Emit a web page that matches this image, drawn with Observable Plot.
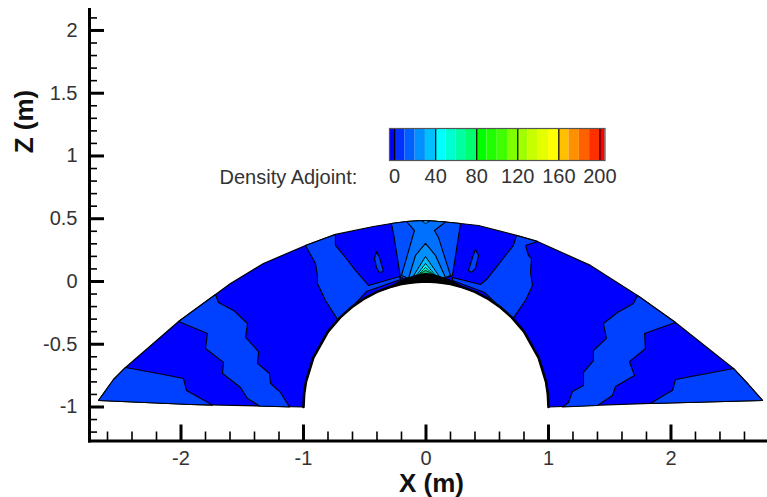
<!DOCTYPE html>
<html>
<head>
<meta charset="utf-8">
<script src="https://cdn.jsdelivr.net/npm/d3@7"></script>
<script src="https://cdn.jsdelivr.net/npm/@observablehq/plot@0.6"></script>
<style>
html,body{margin:0;padding:0;background:#fff;}
#wrap{position:relative;width:767px;height:497px;overflow:hidden;}
#wrap svg{position:absolute;background:transparent;overflow:visible;}
</style>
</head>
<body>
<div id="wrap"></div>
<script>
// Domain outline [x, z] in metres
const outer = [[-2.673,-0.948],[-2.551,-0.781],[-2.453,-0.685],[-2.020,-0.319],[-1.718,-0.104],[-1.596,-0.016],[-1.327,0.143],[-0.984,0.287],[-0.739,0.375],[-0.429,0.438],[-0.282,0.462],[-0.159,0.478],[-0.004,0.486],[0.159,0.474],[0.282,0.462],[0.429,0.446],[0.739,0.367],[0.910,0.319],[1.343,0.128],[1.727,-0.112],[2.037,-0.327],[2.510,-0.693],[2.633,-0.821],[2.747,-0.948],[1.833,-0.972],[1.0,-1.0]];
const inner = [[1.0,-1.0],[0.995,-0.9],[0.98,-0.8],[0.92,-0.608],[0.8,-0.4],[0.7,-0.286],[0.6,-0.2],[0.5,-0.134],[0.4,-0.083],[0.3,-0.046],[0.2,-0.02],[0.1,-0.005],[0,0],[-0.1,-0.005],[-0.2,-0.02],[-0.3,-0.046],[-0.4,-0.083],[-0.5,-0.134],[-0.6,-0.2],[-0.7,-0.286],[-0.8,-0.4],[-0.92,-0.608],[-0.98,-0.8],[-0.995,-0.9],[-1.0,-1.0]];
const bottomLeft = [[-1.0,-1.0],[-1.922,-0.980]];

// Contour bands
const bandA = [[-2.673,-0.948],[-2.551,-0.781],[-2.453,-0.685],[-2.143,-0.741],[-1.980,-0.773],[-1.955,-0.869],[-1.882,-0.908],[-1.743,-0.985],[-1.922,-0.980],[-2.673,-0.948]];
const bandB = [[-2.020,-0.319],[-1.718,-0.104],[-1.694,-0.167],[-1.571,-0.231],[-1.457,-0.335],[-1.473,-0.446],[-1.367,-0.558],[-1.375,-0.653],[-1.278,-0.733],[-1.269,-0.813],[-1.188,-0.884],[-1.114,-1.0],[-1.359,-0.992],[-1.457,-0.932],[-1.514,-0.845],[-1.661,-0.733],[-1.653,-0.645],[-1.800,-0.534],[-1.784,-0.414],[-2.020,-0.319]];
const bandC = [[2.510,-0.693],[2.633,-0.821],[2.747,-0.948],[1.833,-0.972],[1.939,-0.908],[2.012,-0.869],[2.037,-0.781],[2.510,-0.693]];
const bandD = [[1.727,-0.112],[2.037,-0.327],[1.784,-0.414],[1.792,-0.534],[1.661,-0.638],[1.702,-0.749],[1.547,-0.837],[1.522,-0.908],[1.400,-0.988],[1.114,-1.0],[1.163,-0.964],[1.196,-0.877],[1.286,-0.829],[1.286,-0.725],[1.367,-0.630],[1.367,-0.550],[1.473,-0.454],[1.449,-0.335],[1.563,-0.247],[1.694,-0.175],[1.727,-0.112]];
const bandE = [[-0.984,0.287],[-0.739,0.375],[-0.739,0.287],[-0.657,0.191],[-0.576,0.088],[-0.469,-0.032],[-0.216,0.040],[-0.208,0.016],[-0.486,-0.080],[-0.6,-0.2],[-0.72,-0.306],[-0.820,-0.151],[-0.886,-0.016],[-0.886,0.048],[-0.902,0.143],[-0.984,0.287]];
const bandF = [[0.739,0.367],[0.910,0.319],[0.812,0.287],[0.837,0.207],[0.861,0.183],[0.853,0.072],[0.869,-0.032],[0.812,-0.151],[0.71,-0.296],[0.6,-0.2],[0.478,-0.088],[0.216,0.008],[0.216,0.032],[0.445,-0.024],[0.502,0.024],[0.567,0.104],[0.649,0.207],[0.714,0.287],[0.739,0.367]];
const ovalLeft = [[-0.404,0.239],[-0.380,0.191],[-0.347,0.080],[-0.380,0.072],[-0.404,0.112],[-0.420,0.183],[-0.404,0.239]];
const ovalRight = [[0.404,0.255],[0.429,0.207],[0.404,0.104],[0.371,0.072],[0.347,0.088],[0.380,0.191],[0.404,0.255]];
const bandG = [[-0.282,0.462],[-0.159,0.478],[-0.004,0.486],[0.159,0.474],[0.282,0.462],[0.216,0.048],[0.1,0.0],[-0.1,0.0],[-0.208,0.032],[-0.265,0.382],[-0.282,0.462]];
const bandH = [[-0.159,0.478],[-0.004,0.486],[0.159,0.474],[0.069,0.406],[0.102,0.350],[0.200,0.048],[0.08,0.0],[-0.08,0.0],[-0.200,0.048],[-0.094,0.406],[-0.159,0.478]];
const capTop = [[-0.029,0.478],[-0.004,0.462],[0.029,0.478],[-0.004,0.486],[-0.029,0.478]];
const tri1 = [[-0.004,0.303],[-0.086,0.207],[-0.143,0.024],[0,0],[0.159,0.032],[0.078,0.207],[-0.004,0.303]];
const tri2 = [[-0.004,0.199],[-0.110,0.032],[0,0],[0.115,0.032],[-0.004,0.199]];
const tri3 = [[-0.004,0.143],[-0.078,0.048],[0,0.02],[0.078,0.048],[-0.004,0.143]];
const tri4 = [[-0.004,0.112],[-0.061,0.056],[0,0.03],[0.061,0.056],[-0.004,0.112]];
const tri5 = [[-0.004,0.088],[-0.045,0.064],[0,0.04],[0.045,0.064],[-0.004,0.088]];
const blackCap = [[-0.33,-0.06],[-0.2,0.01],[-0.08,0.05],[0,0.065],[0.08,0.05],[0.2,0.01],[0.33,-0.06],[0.2,-0.02],[0,0],[-0.2,-0.02],[-0.33,-0.06]];

// Axes
const xMajor = [-2,-1,0,1,2];
const xMinor = [-2.6,-2.4,-2.2,-1.8,-1.6,-1.4,-1.2,-0.8,-0.6,-0.4,-0.2,0.2,0.4,0.6,0.8,1.2,1.4,1.6,1.8,2.2,2.4,2.6];
const zMajor = [-1,-0.5,0,0.5,1,1.5,2];
const zMinor = [-1.2,-1.1,-0.9,-0.8,-0.7,-0.6,-0.4,-0.3,-0.2,-0.1,0.1,0.2,0.3,0.4,0.6,0.7,0.8,0.9,1.1,1.2,1.3,1.4,1.6,1.7,1.8,1.9,2.1];

// Legend
const levels = [-5,0,10,20,30,40,50,60,70,80,90,100,110,120,130,140,150,160,170,180,190,200,205];
const levelColors = ["#0000ff","#0030ff","#0060ff","#0090ff","#00c0ff","#00ffff","#00ffd0","#00ffa0","#00ff70","#00ff00","#20ff00","#40ff00","#80ff00","#a0ff00","#c8ff00","#e4ff00","#ffff00","#ffc000","#ff9000","#ff6000","#ff3000","#ff0000"];
const legendTicks = [0,40,80,120,160,200];
const legendTitle = "Density Adjoint:";
const xTitle = "X (m)";
const zTitle = "Z (m)";

const cfont = "'Liberation Sans', Arial, sans-serif";
const ink = "#333";
const poly = (pts, fill, sw=1.1) => Plot.line(pts, {x: d => d[0], y: d => d[1], fill, stroke: "#000", strokeWidth: sw, curve: "linear", strokeLinejoin: "round"});

const shape = outer.concat(inner.slice(1), bottomLeft, [outer[0]]);

const main = Plot.plot({
  width: 767, height: 497,
  marginLeft: 89, marginRight: 0, marginTop: 9, marginBottom: 56.5,
  style: {fontFamily: cfont, background: "transparent"},
  x: {domain: [-2.747, 2.788]},
  y: {domain: [-1.271, 2.167]},
  marks: [
    poly(shape, "#0000ff", 1.2),
    poly(bandA, "#0040ff"), poly(bandB, "#0040ff"), poly(bandC, "#0040ff"), poly(bandD, "#0040ff"),
    poly(bandE, "#0040ff"), poly(bandF, "#0040ff"), poly(ovalLeft, "#0040ff"), poly(ovalRight, "#0040ff"),
    poly(bandG, "#0050ff"), poly(bandH, "#0070ff"), poly(capTop, "#00a0ff", 0.8),
    poly(tri1, "#0090ff"), poly(tri2, "#00c0ff", 1), poly(tri3, "#00ffff", 0.9), poly(tri4, "#00ffc8", 0.8), poly(tri5, "#00c878", 0.8),
    poly(blackCap, "#000", 1),
    Plot.line(inner, {x: d => d[0], y: d => d[1], stroke: "#000", strokeWidth: 2.6}),
    Plot.frame({anchor: "bottom", stroke: "#000", strokeWidth: 3}),
    Plot.frame({anchor: "left", stroke: "#000", strokeWidth: 3}),
    Plot.axisX({ticks: xMinor, tickSize: -9, tickFormat: () => "", strokeWidth: 1.6, stroke: "#000", label: null}),
    Plot.axisX({ticks: xMajor, tickSize: -16, tickPadding: 26, strokeWidth: 3, stroke: "#000", fill: ink, fontSize: 20, label: null, tickFormat: d => String(d)}),
    Plot.axisY({ticks: zMinor, tickSize: -8, tickFormat: () => "", strokeWidth: 1.6, stroke: "#000", label: null}),
    Plot.axisY({ticks: zMajor, tickSize: -15, tickPadding: 27, strokeWidth: 3, stroke: "#000", fill: ink, fontSize: 20, label: null, tickFormat: d => String(d)}),
    Plot.text([xTitle], {frameAnchor: "bottom", dx: 3, dy: 42.5, text: d => d, lineAnchor: "middle", fontSize: 26, fontWeight: "bold", fill: "#111"}),
    Plot.text([zTitle], {frameAnchor: "top-left", dx: -65, dy: 112, text: d => d, rotate: -90, textAnchor: "middle", lineAnchor: "middle", fontSize: 26, fontWeight: "bold", fill: "#111"})
  ]
});
main.style.left = "0px"; main.style.top = "0px";

const cells = levelColors.map((c, i) => ({lo: levels[i], hi: levels[i+1], c}));
const legend = Plot.plot({
  width: 400, height: 70,
  marginLeft: 170, marginRight: 14.5, marginTop: 8, marginBottom: 30,
  style: {fontFamily: cfont, background: "transparent"},
  x: {domain: [-5, 205]},
  marks: [
    Plot.rect(cells, {x1: "lo", x2: "hi", fill: "c"}),
    Plot.ruleX(legendTicks, {stroke: "#000", strokeWidth: 1.2}),
    Plot.frame({stroke: "#555", strokeWidth: 1.2}),
    Plot.axisX({ticks: legendTicks, tickSize: 0, tickPadding: 8, fill: ink, fontSize: 20, label: null, tickFormat: d => String(d)}),
    Plot.text([legendTitle], {frameAnchor: "bottom-left", dx: -170, dy: 17, text: d => d, textAnchor: "start", lineAnchor: "middle", fontSize: 20, fill: ink})
  ]
});
legend.style.left = "219px"; legend.style.top = "120px";

const wrap = document.getElementById("wrap");
wrap.append(main, legend);
</script>
</body>
</html>
